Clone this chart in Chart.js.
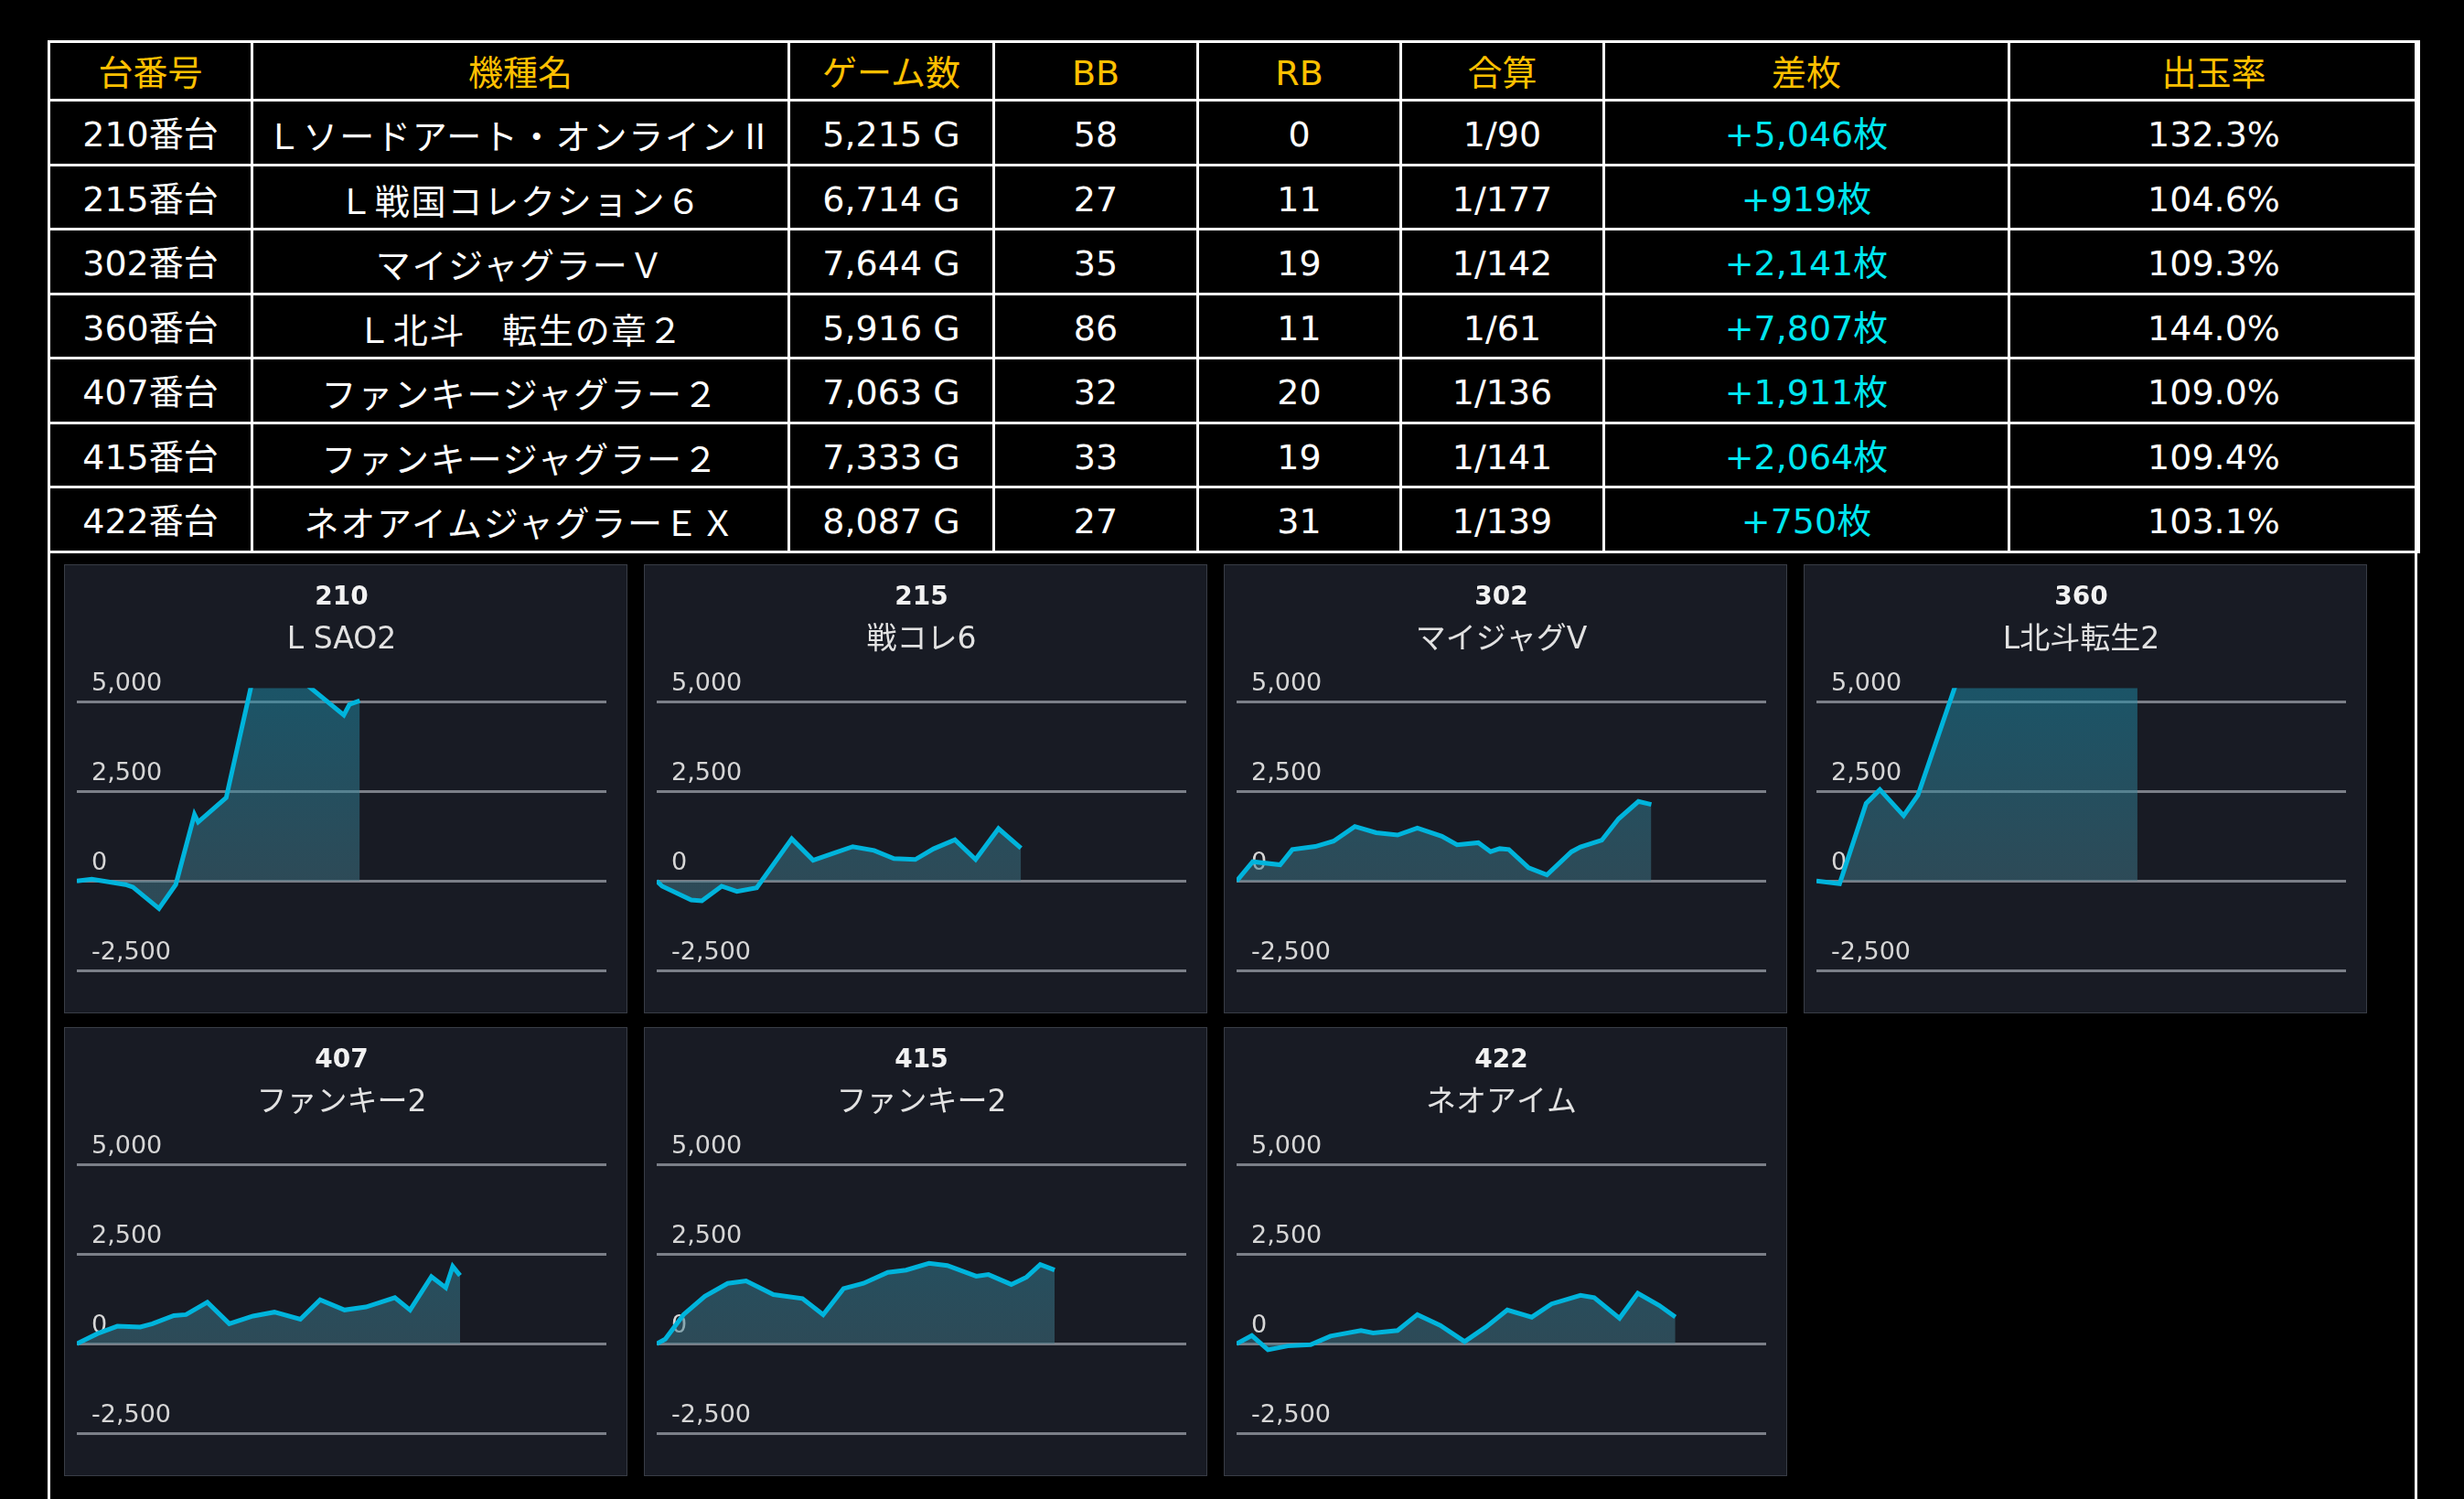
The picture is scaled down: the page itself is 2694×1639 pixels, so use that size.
<!DOCTYPE html>
<html>
<head>
<meta charset="utf-8">
<script src="https://cdn.jsdelivr.net/npm/chart.js@4.4.1/dist/chart.umd.min.js"></script>
<style>
  html, body { margin: 0; padding: 0; background: #000; }
  body { width: 2694px; height: 1639px; overflow: hidden; position: relative;
         font-family: "DejaVu Sans", "Noto Sans CJK JP", sans-serif; }
  #frame { position: absolute; left: 52px; top: 44px; width: 2591px; height: 1700px;
           border: 3px solid #fff; box-sizing: border-box; }
  #summary { position: absolute; left: 52px; top: 44px; width: 2591px;
             border-collapse: collapse; table-layout: fixed; }
  #summary th, #summary td { border: 3px solid #fff; padding: 0; text-align: center;
             vertical-align: middle; font-size: 38px; line-height: 1; white-space: nowrap;
             font-weight: normal; color: #fff; }
  #summary th { height: 56px; color: #ffc000; padding-top: 5px; }
  #summary td { height: 62.5px; padding-top: 5px; }
  #summary td:nth-child(2) { letter-spacing: 1.8px; font-family: "Noto Sans CJK JP", "DejaVu Sans", sans-serif; }
  #summary td.diff { color: #00e6f0; }
  .panel { position: absolute; width: 616px; height: 491px; background: #181b24;
           border: 1px solid #393d46; box-sizing: border-box; }
  .panel canvas { position: absolute; left: 0; top: 0; }
</style>
</head>
<body>
<div id="frame"></div>
<table id="summary">
  <colgroup>
    <col style="width:222px"><col style="width:587px"><col style="width:224px"><col style="width:223px">
    <col style="width:222px"><col style="width:222px"><col style="width:443px"><col style="width:448px">
  </colgroup>
  <thead><tr id="head"></tr></thead>
  <tbody id="rows"></tbody>
</table>
<div id="panels"></div>

<script>
// table
const headers = ['台番号', '機種名', 'ゲーム数', 'BB', 'RB', '合算', '差枚', '出玉率'];
const machineNos = ['210番台', '215番台', '302番台', '360番台', '407番台', '415番台', '422番台'];
const machineNames = ['Ｌソードアート・オンラインⅡ', 'Ｌ戦国コレクション６', 'マイジャグラーＶ',
  'Ｌ北斗　転生の章２', 'ファンキージャグラー２', 'ファンキージャグラー２', 'ネオアイムジャグラーＥＸ'];
const gameCounts = ['5,215 G', '6,714 G', '7,644 G', '5,916 G', '7,063 G', '7,333 G', '8,087 G'];
const bbCounts = [58, 27, 35, 86, 32, 33, 27];
const rbCounts = [0, 11, 19, 11, 20, 19, 31];
const combined = ['1/90', '1/177', '1/142', '1/61', '1/136', '1/141', '1/139'];
const diffCoins = ['+5,046枚', '+919枚', '+2,141枚', '+7,807枚', '+1,911枚', '+2,064枚', '+750枚'];
const payoutRates = ['132.3%', '104.6%', '109.3%', '144.0%', '109.0%', '109.4%', '103.1%'];

// charts: games played (x) and coin difference (y)
const panelNos = ['210', '215', '302', '360', '407', '415', '422'];
const panelNames = ['L SAO2', '戦コレ6', 'マイジャグV', 'L北斗転生2', 'ファンキー2', 'ファンキー2', 'ネオアイム'];
const yTicks = [-2500, 0, 2500, 5000];

const games210 = [0, 275, 895, 1032, 1514, 1824, 2168, 2237, 2753, 3304, 3700, 4100, 4921, 5025, 5215];
const diff210 = [0, 50, -100, -170, -770, -100, 1860, 1650, 2330, 6070, 6300, 5660, 4640, 4940, 5046];

const games215 = [0, 101, 636, 832, 1197, 1478, 1843, 2489, 2883, 3248, 3613, 4006, 4372, 4765, 5102, 5496, 5878, 6299, 6714];
const diff215 = [0, -145, -530, -556, -145, -290, -190, 1180, 580, 770, 960, 855, 625, 600, 900, 1155, 600, 1465, 919];

const games302 = [0, 298, 803, 1028, 1450, 1787, 2180, 2573, 2967, 3332, 3782, 4063, 4456, 4681, 4850, 5018, 5383, 5720, 6170, 6338, 6731, 7041, 7406, 7644];
const diff302 = [0, 540, 455, 880, 965, 1115, 1525, 1350, 1285, 1480, 1250, 1010, 1070, 820, 905, 880, 370, 170, 815, 950, 1140, 1740, 2225, 2141];

const games360 = [0, 427, 916, 1169, 1607, 1871, 2800, 3300, 3800, 4300, 4800, 5300, 5916];
const diff360 = [0, -77, 2170, 2556, 1827, 2401, 6530, 7300, 7900, 7500, 8300, 8000, 7807];

const games407 = [0, 382, 747, 1169, 1394, 1787, 2012, 2405, 2810, 3248, 3641, 4119, 4484, 4934, 5327, 5861, 6142, 6535, 6799, 6928, 7063];
const diff407 = [0, 285, 490, 470, 560, 790, 815, 1160, 560, 775, 885, 685, 1230, 945, 1030, 1290, 945, 1875, 1570, 2165, 1911];

const games415 = [0, 157, 494, 888, 1309, 1646, 2152, 2686, 3068, 3444, 3810, 4259, 4596, 5018, 5355, 5889, 6114, 6535, 6816, 7069, 7333];
const diff415 = [0, 130, 815, 1330, 1690, 1760, 1375, 1265, 815, 1545, 1690, 1995, 2060, 2250, 2190, 1890, 1935, 1660, 1865, 2215, 2064];

const games422 = [0, 281, 579, 944, 1365, 1731, 2293, 2517, 2967, 3332, 3754, 4203, 4597, 4990, 5440, 5805, 6338, 6591, 7058, 7395, 7788, 8087];
const diff422 = [0, 230, -170, -60, -25, 215, 370, 300, 370, 815, 515, 60, 470, 945, 745, 1115, 1355, 1290, 715, 1415, 1075, 750];

const gameSeries = [games210, games215, games302, games360, games407, games415, games422];
const diffSeries = [diff210, diff215, diff302, diff360, diff407, diff415, diff422];

// build the table
const head = document.getElementById('head');
headers.forEach(h => {
  const th = document.createElement('th');
  th.textContent = h;
  head.appendChild(th);
});
const rows = document.getElementById('rows');
machineNos.forEach((no, i) => {
  const tr = document.createElement('tr');
  tr.innerHTML = `
    <td>${no}</td>
    <td>${machineNames[i]}</td>
    <td>${gameCounts[i]}</td>
    <td>${bbCounts[i]}</td>
    <td>${rbCounts[i]}</td>
    <td>${combined[i]}</td>
    <td class="diff">${diffCoins[i]}</td>
    <td>${payoutRates[i]}</td>`;
  rows.appendChild(tr);
});

// chart panels
Chart.defaults.font.family = '"DejaVu Sans", "Noto Sans CJK JP", sans-serif';

function fillGradient(context) {
  const chart = context.chart;
  const area = chart.chartArea;
  if (!area) return 'rgba(40,120,140,0.5)';
  const zeroY = chart.scales.y.getPixelForValue(0);
  const g = chart.ctx.createLinearGradient(0, area.top, 0, zeroY);
  g.addColorStop(0, 'rgba(30,142,170,0.5)');
  g.addColorStop(1, 'rgba(66,122,138,0.5)');
  return g;
}

const panelLeft = [70, 704, 1338, 1972];
const panelTop = [617, 1123];
const container = document.getElementById('panels');

panelNos.forEach((no, i) => {
  const div = document.createElement('div');
  div.className = 'panel';
  div.style.left = panelLeft[i % 4] + 'px';
  div.style.top = panelTop[Math.floor(i / 4)] + 'px';
  const canvas = document.createElement('canvas');
  canvas.width = 614;
  canvas.height = 489;
  div.appendChild(canvas);
  container.appendChild(div);

  new Chart(canvas, {
    type: 'line',
    data: {
      datasets: [{
        data: gameSeries[i].map((g, k) => ({ x: g, y: diffSeries[i][k] })),
        borderColor: '#00b4dc',
        borderWidth: 5,
        pointRadius: 0,
        tension: 0,
        fill: 'origin',
        backgroundColor: fillGradient,
        clip: 0
      }]
    },
    options: {
      responsive: false,
      animation: false,
      devicePixelRatio: 1,
      layout: { padding: { left: 13, right: 22, top: 0, bottom: 46 } },
      plugins: {
        legend: { display: false },
        tooltip: { enabled: false },
        title: {
          display: true, text: no, color: '#f2f2f2',
          font: { size: 28, weight: 'bold' },
          padding: { top: 18.5, bottom: 0 }
        },
        subtitle: {
          display: true, text: panelNames[i], color: '#e2e2e2',
          font: { size: 33 },
          padding: { top: 10.5, bottom: 32 }
        }
      },
      scales: {
        x: { type: 'linear', min: 0, max: 9760, display: false },
        y: {
          min: -2500,
          max: 5400,
          afterBuildTicks: scale => { scale.ticks = yTicks.map(v => ({ value: v })); },
          afterFit: scale => { scale.width = 0; },
          border: { display: false },
          grid: { color: '#7b7f88', lineWidth: 3, drawTicks: false },
          ticks: {
            mirror: true,
            padding: 16,
            labelOffset: -19.5,
            color: '#d6d6d6',
            font: { size: 27 }
          }
        }
      }
    }
  });
});
</script>
</body>
</html>
